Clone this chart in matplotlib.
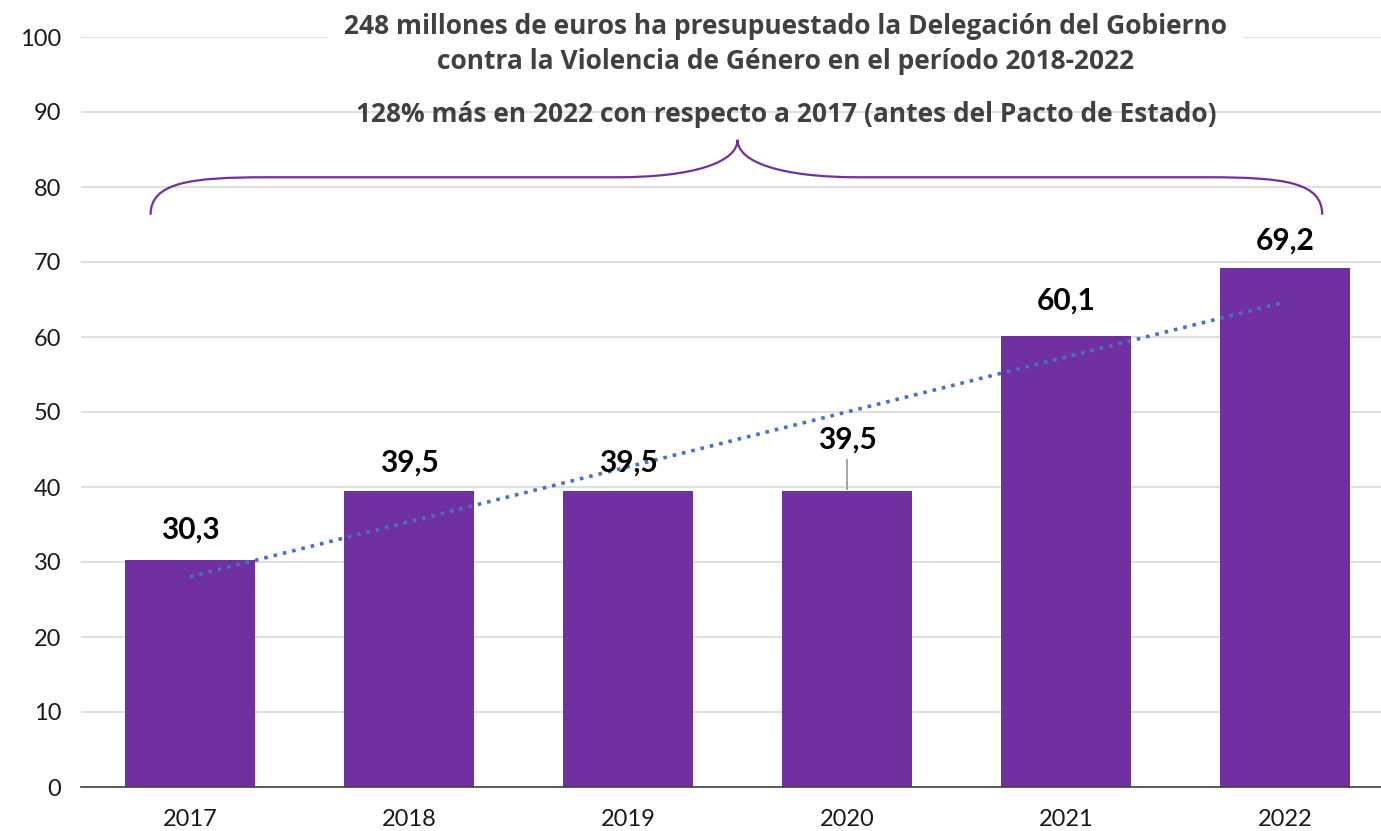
import matplotlib
matplotlib.use("Agg")
import matplotlib.pyplot as plt
import numpy as np
from matplotlib.path import Path
from matplotlib.patches import PathPatch

plt.rcParams['font.family'] = ['Lato', 'DejaVu Sans']

# datos
years = ['2017', '2018', '2019', '2020', '2021', '2022']
budget = [30.3, 39.5, 39.5, 39.5, 60.1, 69.2]
labels = ['30,3', '39,5', '39,5', '39,5', '60,1', '69,2']
label_offsets = [4.0, 3.7, 3.7, 6.8, 4.8, 3.7]

title_top = ('248 millones de euros ha presupuestado la Delegación del Gobierno\n'
             'contra la Violencia de Género en el período 2018-2022')
title_sub = '128% más en 2022 con respecto a 2017 (antes del Pacto de Estado)'

purple = '#7030A0'
blue = '#4472C4'
grid = '#d9d9d9'

fig = plt.figure(figsize=(13.81, 8.31), dpi=100)
ax = fig.add_axes([80.5 / 1381, 44 / 831, 1314 / 1381, 750 / 831])

x = np.arange(len(years))
ax.bar(x, budget, width=0.59, color=purple, zorder=2)

# linea de tendencia (ajuste lineal)
m, b = np.polyfit(x, budget, 1)
ax.plot(x, m * x + b, linestyle=':', color=blue, lw=2.6, zorder=3)

for i, (v, t) in enumerate(zip(budget, labels)):
    ax.text(i, v + label_offsets[i], t, ha='center', va='center',
            fontsize=21.5, fontweight='bold', color='black', zorder=4)
# linea guia 2020
ax.plot([3, 3], [budget[3] + 0.2, budget[3] + label_offsets[3] - 2.7],
        color='#a6a6a6', lw=1.4, zorder=1)

ax.set_xlim(-0.5, 5.5)
ax.set_ylim(0, 100)
ax.set_yticks(range(0, 101, 10))
ax.set_xticks(x)
ax.set_xticklabels(years)
ax.yaxis.grid(True, color=grid, lw=1.2, zorder=0)
ax.set_axisbelow(True)
ax.tick_params(axis='both', length=0, labelsize=17, colors='#1a1a1a')
ax.tick_params(axis='y', pad=14)
ax.tick_params(axis='x', pad=16)
for s in ['top', 'right', 'left']:
    ax.spines[s].set_visible(False)
ax.spines['bottom'].set_color('#404040')
ax.spines['bottom'].set_linewidth(1.2)

# llave
verts = [(-0.18, 76.3), (-0.18, 80.6), (0.0, 81.3), (0.35, 81.3),
         (1.95, 81.3),
         (2.3, 81.3), (2.5, 83.3), (2.5, 86.3),
         (2.5, 83.3), (2.7, 81.3), (3.05, 81.3),
         (4.65, 81.3),
         (5.0, 81.3), (5.17, 80.6), (5.17, 76.3)]
codes = [Path.MOVETO, Path.CURVE4, Path.CURVE4, Path.CURVE4,
         Path.LINETO,
         Path.CURVE4, Path.CURVE4, Path.CURVE4,
         Path.CURVE4, Path.CURVE4, Path.CURVE4,
         Path.LINETO,
         Path.CURVE4, Path.CURVE4, Path.CURVE4]
ax.add_patch(PathPatch(Path(verts, codes), fill=False, edgecolor=purple,
                       lw=1.6, clip_on=False, zorder=3))

tfont = ['Open Sans', 'DejaVu Sans']
fig.text(786 / 1381, 1 - 44 / 831, title_top, ha='center', va='center',
         fontsize=19, fontweight='bold', color='#404040', linespacing=1.38,
         family=tfont,
         bbox=dict(facecolor='white', edgecolor='none', pad=12))
fig.text(786 / 1381, 1 - 115 / 831, title_sub, ha='center', va='center',
         fontsize=19, fontweight='bold', color='#404040', family=tfont)

fig.savefig('out.png', dpi=100)
